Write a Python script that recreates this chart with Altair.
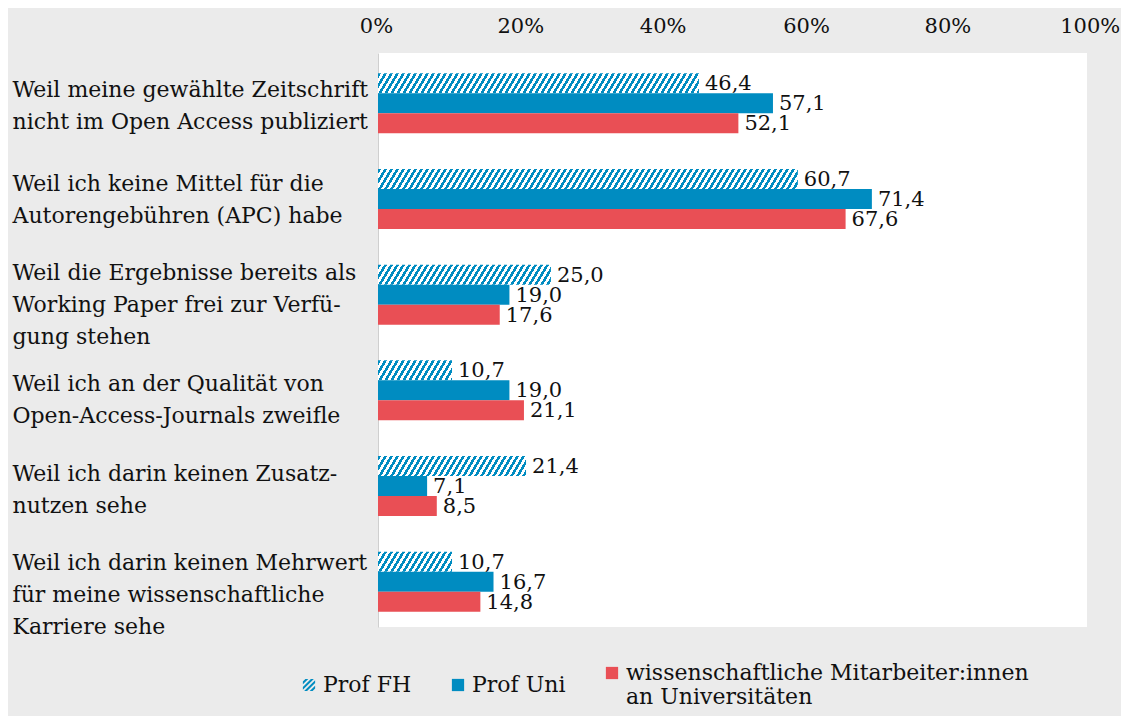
import altair as alt
import pandas as pd

categories = [
    "Weil meine gewählte Zeitschrift|nicht im Open Access publiziert",
    "Weil ich keine Mittel für die|Autorengebühren (APC) habe",
    "Weil die Ergebnisse bereits als|Working Paper frei zur Verfü-|gung stehen",
    "Weil ich an der Qualität von|Open-Access-Journals zweifle",
    "Weil ich darin keinen Zusatz-|nutzen sehe",
    "Weil ich darin keinen Mehrwert|für meine wissenschaftliche|Karriere sehe",
]
series = ["Prof FH", "Prof Uni", "wissenschaftliche Mitarbeiter:innen an Universitäten"]
prof_fh = [46.4, 60.7, 25.0, 10.7, 21.4, 10.7]
prof_uni = [57.1, 71.4, 19.0, 19.0, 7.1, 16.7]
wimi = [52.1, 67.6, 17.6, 21.1, 8.5, 14.8]
tick_values = [0, 20, 40, 60, 80, 100]

BLUE = "#008cc1"
RED = "#e94f55"
BG = "#ebebeb"
FONT = "DejaVu Serif"

# layout
W, H = 709, 574
X_MAX = 102.5
PAD_L, PAD_T = 370, 45
PAD_R = 1113 - PAD_L - W
PAD_B = 708 - PAD_T - H
BAND_PI = 0.373
step = H / (len(categories) - BAND_PI + 2 * (BAND_PI / 2))
bar_h = step * (1 - BAND_PI) / 3
px_per_unit = W / X_MAX

rows = []
for i, c in enumerate(categories):
    for s, vals in zip(series, [prof_fh, prof_uni, wimi]):
        rows.append({"cat": c, "series": s, "value": vals[i],
                     "label": f"{vals[i]:.1f}".replace(".", ",")})
df = pd.DataFrame(rows)

# vertical shift of each multi-line category label (first line drawn at band centre)
label_shift = [-13, -15, -22, -6, -12, -19]

y_enc = alt.Y(
    "cat:N", sort=categories,
    scale=alt.Scale(paddingInner=BAND_PI, paddingOuter=BAND_PI / 2, align=0.57),
    axis=alt.Axis(
        title=None, labelAlign="left", labelPadding=366, labelBaseline="middle",
        labelExpr="split(datum.label, '|')", labelFontSize=22, labelLineHeight=32,
        labelLimit=400, labelColor="#111111", ticks=False, domain=True,
        domainColor="#cfcfcf", domainWidth=1, grid=False,
        labelOffset={"condition": [
            {"test": f"datum.value == '{c}'", "value": s} for c, s in zip(categories, label_shift)
        ], "value": 0},
    ),
)
yoff = alt.YOffset("series:N", sort=series, scale=alt.Scale(domain=series, paddingInner=0, paddingOuter=0))
x_enc = alt.X(
    "value:Q", scale=alt.Scale(domain=[0, X_MAX], nice=False, zero=True),
    axis=alt.Axis(
        orient="top", values=tick_values, labelExpr="datum.value + '%'", title=None,
        domain=False, ticks=False, grid=False, labelFontSize=21, labelPadding=21,
        labelBaseline="alphabetic", labelColor="#111111", labelFlush=False,
        labelOffset={"condition": [
            {"test": "datum.value == 20", "value": 4},
            {"test": "datum.value == 40", "value": 8},
            {"test": "datum.value == 60", "value": 13},
            {"test": "datum.value == 80", "value": 16},
            {"test": "datum.value == 100", "value": 20},
        ], "value": -2},
    ),
)

base = alt.Chart(df).encode(y=y_enc, yOffset=yoff, x=x_enc)

def hatch_gradient(width_px, height_px, period=6.0, a=0.6):
    k = (width_px + a * height_px) / (width_px ** 2 + (a * height_px) ** 2)
    n = (width_px + a * height_px) / period
    stops = []
    i = 0
    while i / n < 1:
        o0 = i / n
        o1 = min((i + 0.5) / n, 1)
        o2 = min((i + 1) / n, 1)
        stops += [alt.GradientStop(offset=o0, color=BLUE), alt.GradientStop(offset=o1, color=BLUE),
                  alt.GradientStop(offset=o1, color="white"), alt.GradientStop(offset=o2, color="white")]
        i += 1
    return alt.LinearGradient(gradient="linear", stops=stops, x1=0, y1=0,
                              x2=k * width_px, y2=k * a * height_px)

layers = []
for c, v in zip(categories, prof_fh):
    g = hatch_gradient(v * px_per_unit, bar_h)
    layers.append(
        base.transform_filter(f"datum.series == 'Prof FH' && datum.cat == '{c}'")
        .mark_bar(color=g, strokeWidth=0)
    )
layers.append(base.transform_filter("datum.series == 'Prof Uni'").mark_bar(color=BLUE))
layers.append(base.transform_filter(f"datum.series == '{series[2]}'").mark_bar(color=RED))
layers.append(
    base.mark_text(align="left", baseline="middle", dx=6, dy=1, fontSize=21, color="#111111", font=FONT)
    .encode(text="label:N")
)

# hatched legend symbol path (unit square -1..1)
def clip(poly, a, b, c, ge):
    out = []
    n = len(poly)
    for i in range(n):
        p, q = poly[i], poly[(i + 1) % n]
        fp = a * p[0] + b * p[1] - c
        fq = a * q[0] + b * q[1] - c
        inp = fp >= 0 if ge else fp <= 0
        inq = fq >= 0 if ge else fq <= 0
        if inp:
            out.append(p)
        if inp != inq:
            t = fp / (fp - fq)
            out.append((p[0] + t * (q[0] - p[0]), p[1] + t * (q[1] - p[1])))
    return out

square = [(-1, -1), (1, -1), (1, 1), (-1, 1)]
path_parts = []
for centre in [-1.35, -0.45, 0.45, 1.35]:
    poly = clip(square, 1, 1, centre - 0.24, True)
    poly = clip(poly, 1, 1, centre + 0.24, False)
    if len(poly) >= 3:
        path_parts.append("M" + "L".join(f"{x:.3f},{y:.3f}" for x, y in poly) + "Z")
hatch_path = "".join(path_parts)

legend = alt.Legend(
    title=None, orient="none", legendX=-80, legendY=609, direction="horizontal",
    columns=3, columnPadding=35, labelOffset=3, symbolSize=150, symbolStrokeWidth=0,
    labelFontSize=22, labelColor="#111111", labelFont=FONT,
    labelLimit=500, labelBaseline="middle", padding=0,
    labelExpr="datum.label == 'wissenschaftliche Mitarbeiter:innen an Universitäten' ? ['wissenschaftliche Mitarbeiter:innen', 'an Universitäten'] : datum.label",
)
legend_layer = alt.Chart(df).transform_filter("false").mark_point(filled=True, opacity=1).encode(
    color=alt.Color("series:N", sort=series, scale=alt.Scale(domain=series, range=[BLUE, BLUE, RED]), legend=legend),
    shape=alt.Shape("series:N", sort=series, scale=alt.Scale(domain=series, range=[hatch_path, "square", "square"]), legend=legend),
)
layers.append(legend_layer)

chart = alt.layer(*layers).properties(
    width=W, height=H,
    autosize=alt.AutoSizeParams(type="none"),
    padding={"left": PAD_L, "top": PAD_T, "right": PAD_R, "bottom": PAD_B},
    background=BG,
    view=alt.ViewBackground(fill="white", stroke="transparent", strokeWidth=0),
).configure_view(fill="white", strokeWidth=0, stroke="transparent").configure(font=FONT)

chart.save("out.html", embed_options={"renderer": "svg", "actions": False})
